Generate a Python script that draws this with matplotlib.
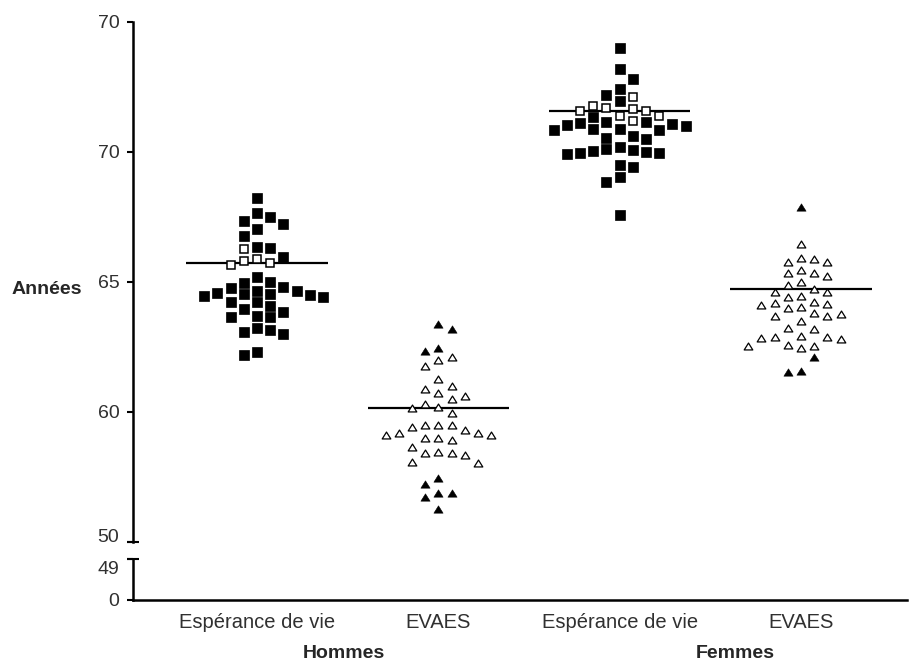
import numpy as np
import matplotlib
matplotlib.use("Agg")
import matplotlib.pyplot as plt
from matplotlib.path import Path
from matplotlib.transforms import ScaledTranslation

plt.rcParams['font.family'] = ['Liberation Sans', 'DejaVu Sans']

# ---------------- data ----------------
categories = ['Espérance de vie', 'EVAES', 'Espérance de vie', 'EVAES']
group_names = ['Hommes', 'Femmes']
y_label = 'Années'
upper_tick_values = [55, 60, 65, 70, 75]
upper_tick_labels = ['50', '60', '65', '70', '70']
lower_tick_values = [0, 49]
lower_tick_labels = ['0', '49']

# Hommes - Espérance de vie (squares)
h_ev_filled = [68.22, 67.64, 67.49, 67.36, 67.23, 67.03, 66.77, 66.33, 66.30, 65.97,
               65.18, 65.01, 64.97, 64.80, 64.76, 64.67, 64.65, 64.59, 64.54, 64.53,
               64.50, 64.47, 64.43, 64.24, 64.22, 64.09, 63.95, 63.86, 63.70, 63.64,
               63.64, 63.24, 63.15, 63.09, 63.00, 62.32, 62.19]
h_ev_open = [66.26, 65.90, 65.82, 65.74, 65.64]

# Hommes - EVAES (triangles)
h_evaes_filled = [63.38, 63.18, 62.45, 62.36, 57.45, 57.23, 56.90, 56.90, 56.74, 56.26]
h_evaes_open = [62.10, 62.00, 61.77, 61.26, 61.01, 60.87, 60.72, 60.62, 60.49, 60.30,
                60.20, 60.14, 59.97, 59.50, 59.50, 59.50, 59.41, 59.31, 59.20, 59.20,
                59.12, 59.12, 58.99, 58.99, 58.92, 58.67, 58.47, 58.43, 58.43, 58.35,
                58.09, 58.05]

# Femmes - Espérance de vie (squares)
f_ev_filled = [73.99, 73.18, 72.81, 72.42, 72.19, 71.96, 71.33, 71.14, 71.14, 71.10,
               71.07, 71.04, 71.00, 70.88, 70.88, 70.85, 70.85, 70.62, 70.53, 70.49,
               70.20, 70.10, 70.08, 70.04, 69.99, 69.97, 69.95, 69.92, 69.50, 69.43,
               69.05, 68.86, 67.58]
f_ev_open = [72.10, 71.77, 71.68, 71.65, 71.58, 71.58, 71.38, 71.38, 71.20]

# Femmes - EVAES (triangles)
f_evaes_filled = [67.87, 62.10, 61.58, 61.55]
f_evaes_open = [66.45, 65.93, 65.87, 65.78, 65.78, 65.46, 65.36, 65.33, 65.23, 64.99,
                64.88, 64.73, 64.63, 64.63, 64.46, 64.43, 64.24, 64.18, 64.14, 64.12,
                64.03, 63.99, 63.80, 63.77, 63.70, 63.69, 63.50, 63.22, 63.18, 62.93,
                62.90, 62.90, 62.86, 62.81, 62.58, 62.55, 62.55, 62.47]

medians = [65.72, 60.17, 71.59, 64.73]

series = [
    (h_ev_filled, h_ev_open, 'square'),
    (h_evaes_filled, h_evaes_open, 'triangle'),
    (f_ev_filled, f_ev_open, 'square'),
    (f_evaes_filled, f_evaes_open, 'triangle'),
]

# ---------------- figure ----------------
W, H = 909, 662
fig = plt.figure(figsize=(W / 100, H / 100), dpi=100)
x0 = 133 / W
wd = (907 - 133) / W
ax = fig.add_axes([x0, 1 - 542 / H, wd, (542 - 22) / H])
ax2 = fig.add_axes([x0, 1 - 600 / H, wd, (600 - 559) / H])

positions = np.arange(1, len(categories) + 1)
xlim = (0.3162, 4.5846)
for a in (ax, ax2):
    a.set_xlim(*xlim)
    a.set_facecolor('none')
ax.set_ylim(55, 75)
ax2.set_ylim(0, 49)

txt_col = '#303030'
spine_lw = 1.8
for a in (ax, ax2):
    for s in ['top', 'right']:
        a.spines[s].set_visible(False)
    a.spines['left'].set_linewidth(spine_lw)
ax.spines['bottom'].set_visible(False)
ax2.spines['bottom'].set_linewidth(spine_lw)

ax.set_xticks([])
ax.set_yticks(upper_tick_values)
ax.set_yticklabels(upper_tick_labels)
ax2.set_yticks(lower_tick_values)
ax2.set_yticklabels(lower_tick_labels)
ax2.set_xticks(positions)
ax2.set_xticklabels(categories)
for a in (ax, ax2):
    a.tick_params(axis='y', length=4.3, width=1.5, labelsize=14, pad=5.5,
                  labelcolor=txt_col)
ax2.tick_params(axis='x', length=0, labelsize=14.5, pad=9, labelcolor=txt_col)

# shift the labels next to the break away from it
ylabs = ax.get_yticklabels()
ylabs[0].set_transform(ylabs[0].get_transform() +
                       ScaledTranslation(0, 6 / 100, fig.dpi_scale_trans))
ylabs2 = ax2.get_yticklabels()
ylabs2[1].set_transform(ylabs2[1].get_transform() +
                        ScaledTranslation(0, -8 / 100, fig.dpi_scale_trans))

# break caps
ax.plot([0], [0], marker='_', ms=8.6, mew=1.5, color='k',
        transform=ax.transAxes, clip_on=False)
ax2.plot([0], [1], marker='_', ms=8.6, mew=1.5, color='k',
         transform=ax2.transAxes, clip_on=False)

# ---------------- swarm layout ----------------
px_per_y = (ax.transData.transform((0, 75))[1] - ax.transData.transform((0, 55))[1]) / 20.0
px_per_x = ax.transData.transform((1, 0))[0] - ax.transData.transform((0, 0))[0]
col_step_px = 13.2
col_step = col_step_px / px_per_x


def swarm_columns(vals, min_gap_px):
    vals_px = np.asarray(vals) * px_per_y
    order = np.argsort(-vals_px, kind='stable')
    cols = np.zeros(len(vals_px), dtype=int)
    occupied = {}
    flip = False
    for i in order:
        y = vals_px[i]
        k = 0
        while True:
            if k == 0:
                cands = [0]
            else:
                near_r = sum(1 for c, v in occupied.items() if c > 0
                             for yy in v if abs(y - yy) < 1.5 * min_gap_px)
                near_l = sum(1 for c, v in occupied.items() if c < 0
                             for yy in v if abs(y - yy) < 1.5 * min_gap_px)
                if near_l < near_r:
                    cands = [-k, k]
                elif near_r < near_l:
                    cands = [k, -k]
                else:
                    cands = [-k, k] if flip else [k, -k]
            ok = [c for c in cands
                  if all(abs(y - yy) >= min_gap_px for yy in occupied.get(c, []))]
            if ok:
                c = ok[0]
                break
            k += 1
        if c != 0:
            flip = c > 0
        occupied.setdefault(c, []).append(y)
        cols[i] = c
    return cols


tri_path = Path([(0, 0.8), (-1, -0.8), (1, -0.8), (0, 0)], closed=True)

for pos, (filled, opened, shape), med in zip(positions, series, medians):
    vals = np.array(list(filled) + list(opened))
    is_open = np.array([False] * len(filled) + [True] * len(opened))
    gap = 11.0
    cols = swarm_columns(vals, gap)
    xs = pos + cols * col_step
    ax.plot([pos - 0.39, pos + 0.39], [med, med], color='k', lw=1.6, zorder=2,
            solid_capstyle='butt')
    if shape == 'square':
        ax.plot(xs[~is_open], vals[~is_open], ls='none', marker='s', ms=7.0,
                mfc='black', mec='black', mew=0.5, zorder=3, clip_on=False)
        ax.plot(xs[is_open], vals[is_open], ls='none', marker='s', ms=6.4,
                mfc='white', mec='black', mew=1.1, zorder=4, clip_on=False)
    else:
        ax.plot(xs[~is_open], vals[~is_open], ls='none', marker=tri_path, ms=6.6,
                mfc='black', mec='black', mew=0.4, zorder=3, clip_on=False)
        ax.plot(xs[is_open], vals[is_open], ls='none', marker=tri_path, ms=6.2,
                mfc='white', mec='black', mew=0.9, zorder=4, clip_on=False)

# ---------------- labels ----------------
fig.text(46.7 / W, 1 - 294 / H, y_label, ha='center', va='baseline',
         fontsize=14, fontweight='bold', color='#262626')
fig.text(344 / W, 1 - 658 / H, group_names[0], ha='center', va='baseline',
         fontsize=14, fontweight='bold', color='#262626')
fig.text(735 / W, 1 - 658 / H, group_names[1], ha='center', va='baseline',
         fontsize=14, fontweight='bold', color='#262626')

fig.savefig('out.png', dpi=100)
